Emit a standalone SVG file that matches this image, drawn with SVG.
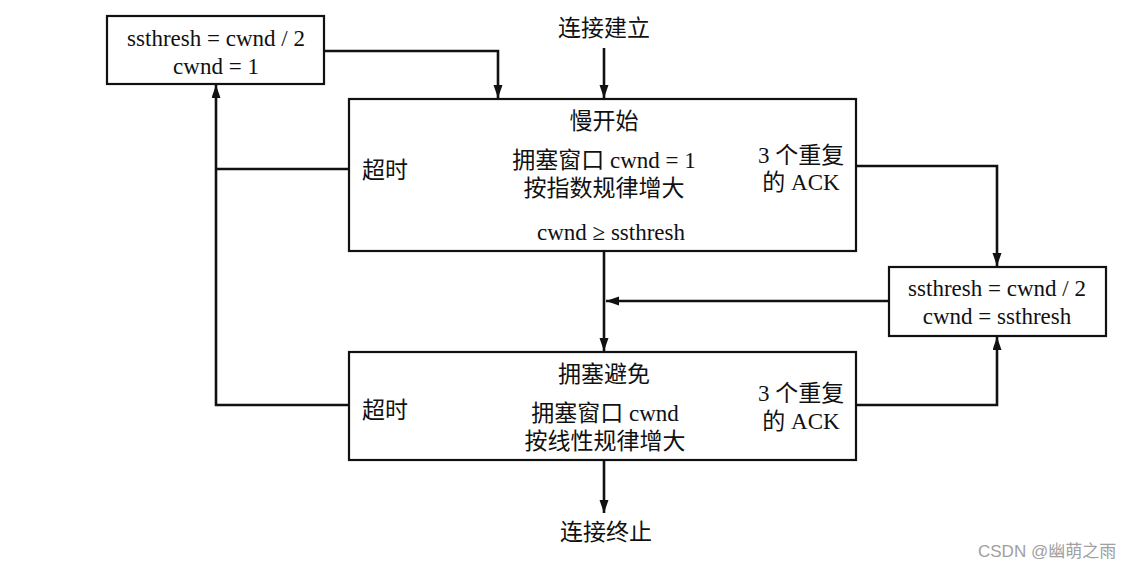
<svg xmlns="http://www.w3.org/2000/svg" width="1143" height="566" viewBox="0 0 1143 566">
<style>
  .box { fill: #ffffff; stroke: #111111; stroke-width: 2.2; }
  .t { font-family: "Liberation Serif", "Noto Sans CJK SC", serif; font-size: 23px; fill: #111111; }
  .m { text-anchor: middle; }
  .c { fill: none; stroke: #111111; stroke-width: 2.6; }
  .wm { font-family: "Liberation Sans", "Noto Sans CJK SC", sans-serif; font-size: 17px; fill: #a0a0a0; }
</style>
<defs>
  <marker id="arr" markerUnits="userSpaceOnUse" markerWidth="14" markerHeight="10" refX="13" refY="4.5" orient="auto">
    <path d="M0,0 L13,4.5 L0,9 z" fill="#111111"/>
  </marker>
</defs>
<rect width="1143" height="566" fill="#ffffff"/>

<g id="connectors">
  <path class="c" d="M324,51 H498 V98" marker-end="url(#arr)"/>
  <path class="c" d="M604,48 V98" marker-end="url(#arr)"/>
  <path class="c" d="M349,169 H216"/>
  <path class="c" d="M349,405 H216 V85" marker-end="url(#arr)"/>
  <path class="c" d="M856,166 H997 V266" marker-end="url(#arr)"/>
  <path class="c" d="M856,405 H997 V337" marker-end="url(#arr)"/>
  <path class="c" d="M889,301 H606" marker-end="url(#arr)"/>
  <path class="c" d="M604,251 V351" marker-end="url(#arr)"/>
  <path class="c" d="M604,460 V513" marker-end="url(#arr)"/>
</g>

<g id="start">
  <text class="t m" x="604" y="36">连接建立</text>
</g>

<g id="reset-timeout">
  <rect class="box" x="107" y="16" width="217" height="68"/>
  <text class="t m" x="216" y="46">ssthresh = cwnd / 2</text>
  <text class="t m" x="216" y="74">cwnd = 1</text>
</g>

<g id="slow-start">
  <rect class="box" x="349" y="99" width="507" height="152"/>
  <text class="t m" x="604" y="129">慢开始</text>
  <text class="t" x="362" y="178">超时</text>
  <text class="t m" x="604" y="168">拥塞窗口 cwnd = 1</text>
  <text class="t m" x="604" y="196">按指数规律增大</text>
  <text class="t m" x="801" y="163">3 个重复</text>
  <text class="t m" x="801" y="190">的 ACK</text>
  <text class="t m" x="611" y="240">cwnd ≥ ssthresh</text>
</g>

<g id="fast-recovery">
  <rect class="box" x="889" y="267" width="217" height="69"/>
  <text class="t m" x="997" y="296">ssthresh = cwnd / 2</text>
  <text class="t m" x="997" y="324">cwnd = ssthresh</text>
</g>

<g id="congestion-avoidance">
  <rect class="box" x="349" y="352" width="507" height="108"/>
  <text class="t m" x="604" y="382">拥塞避免</text>
  <text class="t" x="362" y="418">超时</text>
  <text class="t m" x="605" y="421">拥塞窗口 cwnd</text>
  <text class="t m" x="605" y="449">按线性规律增大</text>
  <text class="t m" x="801" y="401">3 个重复</text>
  <text class="t m" x="801" y="429">的 ACK</text>
</g>

<g id="end">
  <text class="t m" x="606" y="540">连接终止</text>
</g>

<text class="wm" x="978" y="557">CSDN @幽萌之雨</text>
</svg>
